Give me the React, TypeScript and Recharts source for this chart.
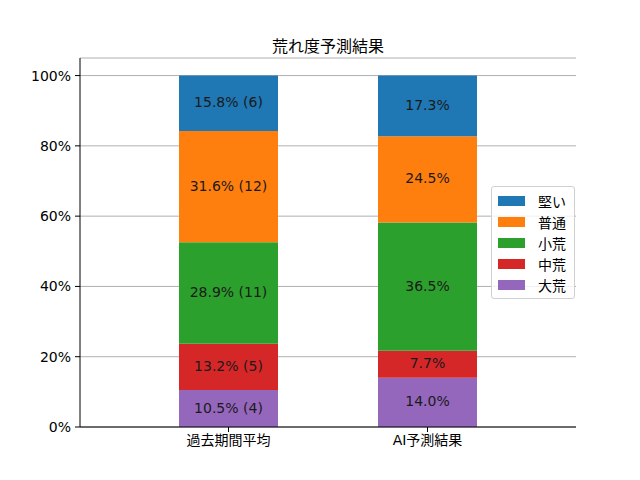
import React from 'react';
import { Bar, BarChart, CartesianGrid, LabelList, Legend, XAxis, YAxis } from 'recharts';

// categories and series (percent of races)
const categories = ['過去期間平均', 'AI予測結果'];
const daiko = [10.5, 14.0];
const chuko = [13.2, 7.7];
const shoko = [28.9, 36.5];
const futsu = [31.6, 24.5];
const katai = [15.8, 17.3];

// race counts (only known for the past period)
const daikoCount = [4, null];
const chukoCount = [5, null];
const shokoCount = [11, null];
const futsuCount = [12, null];
const kataiCount = [6, null];

const yTicks = [0, 20, 40, 60, 80, 100];

const series = [
  { key: 'daiko', name: '大荒', color: '#9467bd', counts: daikoCount },
  { key: 'chuko', name: '中荒', color: '#d62728', counts: chukoCount },
  { key: 'shoko', name: '小荒', color: '#2ca02c', counts: shokoCount },
  { key: 'futsu', name: '普通', color: '#ff7f0e', counts: futsuCount },
  { key: 'katai', name: '堅い', color: '#1f77b4', counts: kataiCount },
];

const data = categories.map((name, i) => ({
  name,
  daiko: daiko[i],
  chuko: chuko[i],
  shoko: shoko[i],
  futsu: futsu[i],
  katai: katai[i],
}));

const FONT = '"DejaVu Sans", "Noto Sans CJK JP", sans-serif';

const makeLabel = (counts: (number | null)[]) => (props: any) => {
  const { x, y, width, height, value, index } = props;
  const c = counts[index];
  const text = c != null ? `${Number(value).toFixed(1)}% (${c})` : `${Number(value).toFixed(1)}%`;
  return (
    <text
      x={x + width / 2}
      y={y + height / 2 - 1}
      textAnchor="middle"
      dominantBaseline="central"
      fill="#1a1a1a"
      fontSize={14}
      fontFamily={FONT}
    >
      {text}
    </text>
  );
};

const LegendBox = () => (
  <div
    style={{
      border: '1px solid #d0d0d0',
      borderRadius: 3,
      background: 'rgba(255,255,255,0.8)',
      padding: '3px 8px 3px 6px',
      fontFamily: FONT,
      fontSize: 14,
      color: '#000',
    }}
  >
    {[...series].reverse().map((s) => (
      <div key={s.key} style={{ display: 'flex', alignItems: 'center', height: 21 }}>
        <span style={{ display: 'inline-block', width: 27, height: 10, background: s.color, marginRight: 13 }} />
        <span>{s.name}</span>
      </div>
    ))}
  </div>
);

export default function App() {
  return (
    <div style={{ position: 'absolute', left: 0, top: 0, width: 640, height: 480, background: '#fff' }}>
      <div
        style={{
          position: 'absolute',
          left: 80,
          width: 496,
          top: 33,
          textAlign: 'center',
          fontFamily: FONT,
          fontSize: 16,
          color: '#000',
        }}
      >
        荒れ度予測結果
      </div>
      <BarChart width={640} height={480} data={data} margin={{ top: 58, right: 64, bottom: 23, left: 0 }}>
        <CartesianGrid vertical={false} stroke="#b0b0b0" strokeWidth={1} />
        <XAxis
          dataKey="name"
          padding={{ left: 49, right: 49 }}
          height={30}
          tickSize={5}
          tickMargin={3}
          tick={{ fill: '#000', fontSize: 14, fontFamily: FONT }}
          tickLine={{ stroke: '#000' }}
          axisLine={{ stroke: '#000' }}
        />
        <XAxis
          xAxisId="top"
          dataKey="name"
          orientation="top"
          height={0}
          tick={false}
          tickLine={false}
          axisLine={{ stroke: '#000' }}
        />
        <YAxis
          domain={[0, 105]}
          ticks={yTicks}
          tickFormatter={(v) => `${v}%`}
          width={80}
          tickSize={5}
          tickMargin={4}
          tick={{ fill: '#000', fontSize: 14, fontFamily: FONT }}
          tickLine={{ stroke: '#000' }}
          axisLine={{ stroke: '#000' }}
          allowDataOverflow
        />
        <YAxis
          yAxisId="right"
          orientation="right"
          domain={[0, 105]}
          width={0}
          tick={false}
          tickLine={false}
          axisLine={{ stroke: '#000' }}
        />
        <Legend
          layout="horizontal"
          verticalAlign="middle"
          align="center"
          content={<LegendBox />}
          wrapperStyle={{ position: 'absolute', left: 491, top: 186, width: 'auto' }}
        />
        {series.map((s) => (
          <Bar key={s.key} dataKey={s.key} name={s.name} stackId="a" fill={s.color} barSize={99} isAnimationActive={false}>
            <LabelList dataKey={s.key} content={makeLabel(s.counts)} />
          </Bar>
        ))}
      </BarChart>
    </div>
  );
}
